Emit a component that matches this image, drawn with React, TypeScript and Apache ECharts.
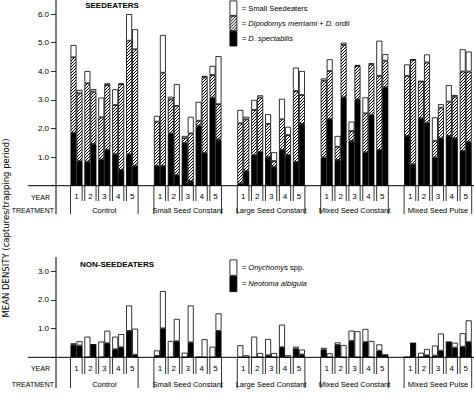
import React, { useEffect, useRef } from "react";
import * as echarts from "echarts";

// ---------- data ----------
const treatments = ["Control", "Small Seed Constant", "Large Seed Constant", "Mixed Seed Constant", "Mixed Seed Pulse"];
const years = ["1", "2", "3", "4", "5"];
const seedTicks = [1, 2, 3, 4, 5, 6];
const nonSeedTicks = [1, 2, 3];

// SEEDEATERS: two bars per year, 10 per treatment (segment values)
const spectabilis = [
  1.85, 0.86, 0.84, 1.46, 0.92, 1.25, 1.10, 0.55, 1.10, 0.70,
  0.69, 0.69, 1.83, 0.37, 1.50, 0.16, 2.09, 1.15, 3.08, 1.62,
  0.08, 0.51, 1.07, 1.19, 1.01, 0.66, 1.25, 1.07, 0.83, 2.16,
  0.99, 2.33, 0.90, 3.09, 1.57, 3.02, 1.17, 2.47, 1.25, 3.44,
  1.74, 0.75, 2.36, 2.20, 0.99, 1.66, 1.74, 1.66, 1.22, 1.54,
];
const merriamiOrdii = [
  2.64, 2.37, 2.74, 1.83, 1.47, 2.27, 1.72, 3.00, 3.97, 4.07,
  1.55, 3.26, 1.19, 2.42, 0.16, 1.67, 0.18, 2.64, 0.79, 1.23,
  2.10, 1.81, 1.58, 1.89, 1.15, 0.20, 1.07, 0.70, 2.48, 1.01,
  2.68, 1.68, 0.46, 1.83, 0.34, 1.17, 1.36, 1.77, 2.59, 0.93,
  2.10, 3.65, 1.28, 2.11, 0.58, 1.07, 1.20, 1.45, 2.77, 2.45,
];
const smallSeedeaters = [
  0.43, 0.12, 0.43, 0.09, 0.69, 0.06, 0.55, 0.02, 0.93, 0.70,
  0.20, 1.32, 0.09, 0.76, 0.08, 0.58, 0.66, 0.05, 0.32, 1.68,
  0.47, 0.09, 0.35, 0.08, 0.34, 0.31, 0.72, 0.29, 0.82, 0.84,
  0.08, 0.41, 0.38, 0.08, 0.33, 0.03, 0.56, 0.04, 1.23, 0.23,
  0.40, 0.02, 0.02, 0.28, 0.82, 0.12, 0.58, 0.06, 0.78, 0.70,
];

// NON-SEEDEATERS
const neotoma = [
  0.43, 0.41, 0.00, 0.44, 0.00, 0.49, 0.28, 0.35, 0.92, 0.09,
  0.05, 1.01, 0.00, 0.56, 0.00, 0.52, 0.00, 0.00, 0.00, 0.92,
  0.00, 0.00, 0.00, 0.00, 0.07, 0.00, 0.35, 0.00, 0.30, 0.10,
  0.27, 0.00, 0.43, 0.00, 0.57, 0.00, 0.53, 0.00, 0.23, 0.08,
  0.00, 0.49, 0.00, 0.07, 0.06, 0.23, 0.53, 0.34, 0.37, 0.53,
];
const onychomys = [
  0.06, 0.15, 0.72, 0.00, 0.55, 0.44, 0.44, 0.46, 0.89, 0.91,
  0.19, 1.30, 0.57, 0.78, 0.16, 1.29, 0.00, 0.63, 0.37, 0.61,
  0.42, 0.07, 0.72, 0.15, 0.57, 0.15, 0.79, 0.07, 0.07, 0.17,
  0.06, 0.14, 0.09, 0.43, 0.36, 0.91, 0.46, 0.57, 0.22, 0.00,
  0.00, 0.00, 0.16, 0.22, 0.35, 0.60, 0.00, 0.17, 0.47, 0.76,
];

// ---------- layout helpers ----------
const FONT = '"Liberation Sans", Arial, sans-serif';
const AXIS_X = 56;
const GRID_LEFT = 69.55;
const SLOT = 13.9;
const CAT_GAP = 0.137;

type Slot = { key: string; g: number; y: number | null };
const slots: Slot[] = [];
treatments.forEach((t, g) => {
  years.forEach((yr, y) => slots.push({ key: `${t}|${yr}`, g, y }));
  if (g < treatments.length - 1) slots.push({ key: `gap${g}`, g, y: null });
});
const categories = slots.map((s) => s.key);
const pick = (arr: number[], side: number) =>
  slots.map((s) => (s.y === null ? "-" : arr[s.g * 10 + s.y * 2 + side]));

// "////" hatching as a small repeating tile
function makeHatch() {
  const n = 3;
  const c = document.createElement("canvas");
  c.width = n;
  c.height = n;
  const ctx = c.getContext("2d")!;
  ctx.fillStyle = "#fff";
  ctx.fillRect(0, 0, n, n);
  ctx.fillStyle = "#000";
  for (let x = 0; x < n; x++) ctx.fillRect(x, n - 1 - x, 1, 1);
  return c;
}

const NAMES = {
  small: "Small Seedeaters",
  dip: "Dipodomys merriami + D. ordii",
  spec: "D. spectabilis",
  ony: "Onychomys spp.",
  neo: "Neotoma albigula",
};

function barSeries(name: string, data: any[], stack: string, axis: number, color: any) {
  return {
    type: "bar",
    name,
    data,
    stack,
    xAxisIndex: axis,
    yAxisIndex: axis,
    barGap: "0%",
    barCategoryGap: `${CAT_GAP * 100}%`,
    itemStyle: { color, borderColor: "#000", borderWidth: 0.8 },
    emphasis: { disabled: true },
    silent: true,
  };
}

export default function App() {
  const ref = useRef<HTMLDivElement>(null);
  useEffect(() => {
    if (!ref.current) return;
    const chart = echarts.init(ref.current, undefined, { renderer: "svg" });
    const hatch = { image: makeHatch(), repeat: "repeat" };
    const series: any[] = [];
    [0, 1].forEach((side) => {
      const st = side === 0 ? "a" : "b";
      series.push(barSeries(NAMES.spec, pick(spectabilis, side), st, 0, "#000"));
      series.push(barSeries(NAMES.dip, pick(merriamiOrdii, side), st, 0, hatch));
      series.push(barSeries(NAMES.small, pick(smallSeedeaters, side), st, 0, "#fff"));
    });
    [0, 1].forEach((side) => {
      const st = side === 0 ? "c" : "d";
      series.push(barSeries(NAMES.neo, pick(neotoma, side), st, 1, "#000"));
      series.push(barSeries(NAMES.ony, pick(onychomys, side), st, 1, "#fff"));
    });

    const legendText: Record<string, string> = {
      [NAMES.small]: "= Small Seedeaters",
      [NAMES.dip]: "= {i|Dipodomys merriami} + {i|D. ordii}",
      [NAMES.spec]: "= {i|D. spectabilis}",
      [NAMES.ony]: "= {i|Onychomys} spp.",
      [NAMES.neo]: "= {i|Neotoma albigula}",
    };
    const legendCommon = {
      orient: "vertical",
      padding: 0,
      itemGap: 0,
      itemWidth: 7,
      icon: "rect",
      selectedMode: false,
      itemStyle: { borderColor: "#000", borderWidth: 0.8 },
      formatter: (n: string) => legendText[n],
      textStyle: {
        fontSize: 7.5,
        fontFamily: FONT,
        color: "#000",
        rich: { i: { fontStyle: "italic", fontSize: 7.5, fontFamily: FONT, color: "#000" } },
      },
    };

    const yAxisBase = (gi: number, max: number, ticks: number[]) => ({
      gridIndex: gi,
      type: "value",
      min: 0,
      max,
      interval: 1,
      offset: GRID_LEFT - AXIS_X,
      axisLine: { show: false },
      axisTick: { show: true, length: 5, lineStyle: { color: "#000", width: 0.8 } },
      axisLabel: {
        formatter: (v: number) => (ticks.includes(v) ? v.toFixed(1) : ""),
        fontSize: 8,
        fontFamily: FONT,
        color: "#000",
        margin: 7,
      },
      splitLine: { show: false },
    });

    const xAxisBase = (gi: number) => ({
      gridIndex: gi,
      type: "category",
      data: categories,
      axisLine: { show: false },
      axisTick: { show: false },
      axisLabel: {
        interval: 0,
        formatter: (v: string) => (v.includes("|") ? v.split("|")[1] : ""),
        fontSize: 8,
        fontFamily: FONT,
        color: "#000",
        margin: 7,
      },
      splitLine: { show: false },
    });

    chart.setOption({
      animation: false,
      backgroundColor: "#fff",
      grid: [
        { left: GRID_LEFT, width: SLOT * categories.length, top: 14.1, height: 171.6 },
        { left: GRID_LEFT, width: SLOT * categories.length, top: 271.3, height: 86 },
      ],
      xAxis: [xAxisBase(0), xAxisBase(1)],
      yAxis: [yAxisBase(0, 6, seedTicks), yAxisBase(1, 3, nonSeedTicks)],
      legend: [
        { ...legendCommon, data: [NAMES.small, NAMES.dip, NAMES.spec], left: 229.5, top: 0.5, itemHeight: 14.5 },
        { ...legendCommon, data: [NAMES.ony, NAMES.neo], left: 229.5, top: 259.5, itemHeight: 15.5 },
      ],
      series,
    });

    // decorations computed from the axes
    const els: any[] = [];
    const line = (x1: number, y1: number, x2: number, y2: number, w = 0.8) => ({
      type: "line",
      silent: true,
      shape: { x1, y1, x2, y2 },
      style: { stroke: "#000", lineWidth: w },
    });
    const text = (x: number, y: number, t: string, size: number, align = "center", extra: any = {}) => ({
      type: "text",
      silent: true,
      x,
      y,
      ...extra,
      style: { text: t, fill: "#000", fontSize: size, fontFamily: FONT, align, verticalAlign: "middle", ...(extra.style || {}) },
    });
    const panels = [
      { idx: 0, axisTop: 0, axisBottom: 214, yearEnd: 201, groupEnd: 214, yearTextY: 197, treatY: 210, title: "SEEDEATERS", titleX: 112, titleY: 5 },
      { idx: 1, axisTop: 257, axisBottom: 388, yearEnd: 374, groupEnd: 388, yearTextY: 368, treatY: 384, title: "NON-SEEDEATERS", titleX: 117, titleY: 264 },
    ];
    panels.forEach((p) => {
      const cx = (i: number) => chart.convertToPixel({ xAxisIndex: p.idx } as any, i) as number;
      const base = chart.convertToPixel({ yAxisIndex: p.idx } as any, 0) as number;
      const slot = cx(1) - cx(0);
      const half = (slot * (1 - CAT_GAP)) / 2;
      els.push(line(28, base, 474, base, 1));
      els.push(line(AXIS_X, p.axisTop, AXIS_X, p.axisBottom, 1));
      treatments.forEach((t, g) => {
        const first = g * 6;
        const left = cx(first) - half;
        const right = cx(first + 4) + half;
        els.push(line(left, base, left, p.groupEnd));
        els.push(line(right, base, right, p.groupEnd));
        for (let y = 0; y < 4; y++) {
          const mid = (cx(first + y) + cx(first + y + 1)) / 2;
          els.push(line(mid - 1.3, base, mid - 1.3, p.yearEnd));
          els.push(line(mid + 1.3, base, mid + 1.3, p.yearEnd));
        }
        els.push(text(cx(first + 2), p.treatY, t, 7.5));
      });
      els.push(text(50, p.yearTextY, "YEAR", 7, "right"));
      els.push(text(54, p.treatY, "TREATMENT", 7, "right"));
      els.push(text(p.titleX, p.titleY, p.title, 8, "center", { style: { fontWeight: "bold" } }));
    });
    els.push(
      text(6, 228, "MEAN DENSITY (captures/trapping period)", 8.5, "center", {
        rotation: Math.PI / 2,
        style: { fontFamily: '"DejaVu Sans", sans-serif' },
      })
    );
    chart.setOption({ graphic: els });

    return () => chart.dispose();
  }, []);
  return (
    <div
      ref={ref}
      style={{ position: "absolute", left: 0, top: 0, width: 474, height: 399, background: "#fff" }}
    />
  );
}
